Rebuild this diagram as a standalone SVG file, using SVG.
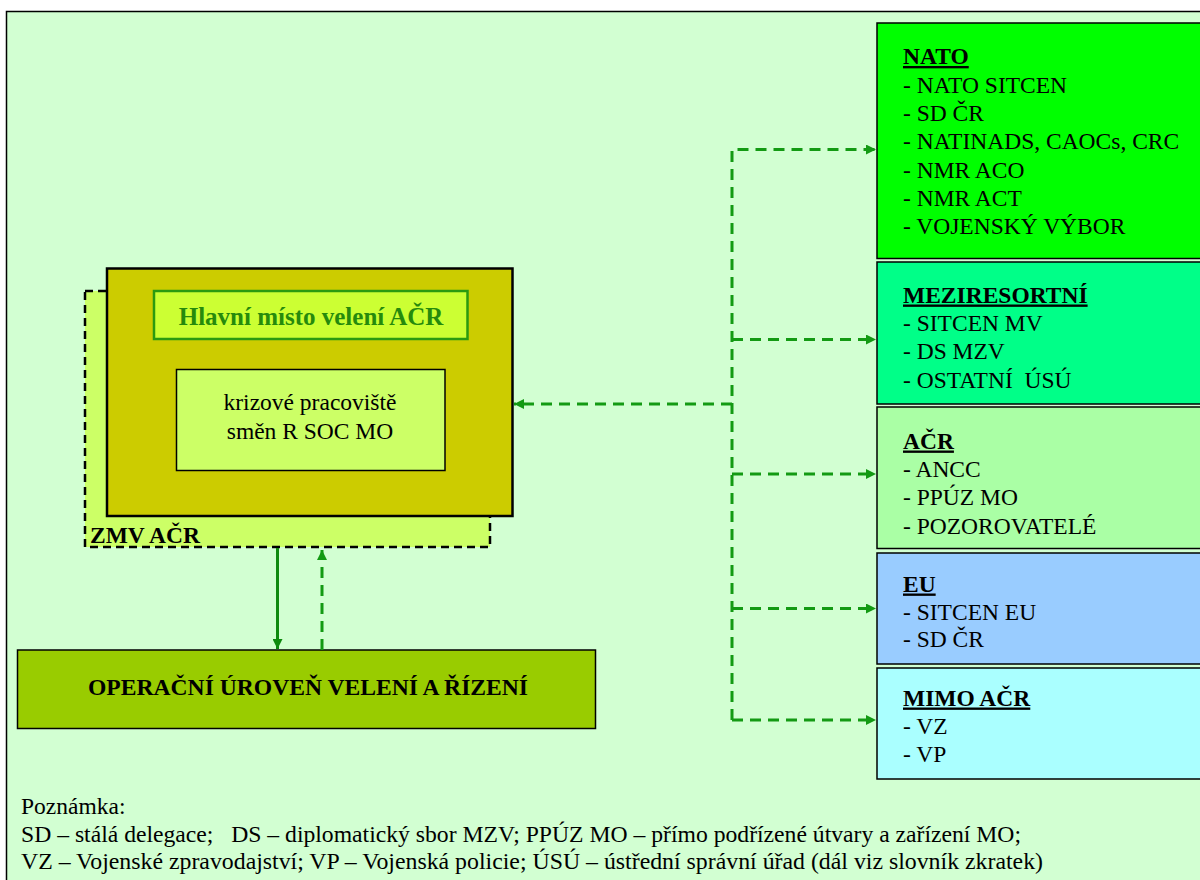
<svg xmlns="http://www.w3.org/2000/svg" width="1200" height="880" viewBox="0 0 1200 880">
<defs>
<style>
text{font-family:"Liberation Serif","Times New Roman",serif;fill:#000}
.t{font-size:23.5px}
.h{font-size:23.5px;font-weight:bold;text-decoration:underline}
.box{stroke:#000;stroke-width:1.5}
.dash{fill:none;stroke:#139a13;stroke-width:3;stroke-dasharray:11 7}
.solid{fill:none;stroke:#0e8a0e;stroke-width:3}
</style>
<marker id="ah" viewBox="0 0 10 10" refX="10" refY="5" markerWidth="10" markerHeight="10" markerUnits="userSpaceOnUse" orient="auto"><path d="M0,0 L10,5 L0,10 z" fill="#139a13"/></marker>
<marker id="ah2" viewBox="0 0 10 10" refX="10" refY="5" markerWidth="10" markerHeight="10" markerUnits="userSpaceOnUse" orient="auto"><path d="M0,0 L10,5 L0,10 z" fill="#0e8a0e"/></marker>
</defs>
<rect x="0" y="0" width="1200" height="880" fill="#ffffff"/>
<rect x="6.5" y="11.5" width="1200" height="880" fill="#d2ffd2" stroke="#000" stroke-width="1.5"/>

<g id="zmv">
<rect x="85" y="291" width="405" height="256" fill="#ccff66" stroke="#000" stroke-width="2.5" stroke-dasharray="8 5"/>
<text x="90" y="543" style="font-size:23.5px;font-weight:bold">ZMV AČR</text>
</g>
<g id="hmv">
<rect x="107" y="268.5" width="405.5" height="247.5" fill="#cccc00" stroke="#000" stroke-width="2.5"/>
</g>
<g id="hlavni">
<rect x="154" y="291" width="313.5" height="48" fill="#ccff33" stroke="#2b9a10" stroke-width="2.5"/>
<text x="311" y="325" text-anchor="middle" style="font-size:25px;font-weight:bold;fill:#268a0c">Hlavní místo velení AČR</text>
</g>
<g id="krizove">
<rect x="176.5" y="369.5" width="268.5" height="101" fill="#ccff66" stroke="#000" stroke-width="1.5"/>
<text x="310" y="410" text-anchor="middle" class="t">krizové pracoviště</text>
<text x="310" y="438.5" text-anchor="middle" class="t">směn R SOC MO</text>
</g>
<g id="operacni">
<rect x="17.5" y="650" width="578" height="78.5" fill="#99cc00" stroke="#000" stroke-width="1.5"/>
<text x="308" y="695" text-anchor="middle" textLength="440" lengthAdjust="spacingAndGlyphs" style="font-size:23.5px;font-weight:bold">OPERAČNÍ ÚROVEŇ VELENÍ A ŘÍZENÍ</text>
</g>

<g id="nato">
<rect class="box" x="877" y="23" width="340" height="235.5" fill="#00ff00"/>
<text x="903" y="64" class="h">NATO</text>
<text x="903" y="92.5" class="t">- NATO SITCEN</text>
<text x="903" y="121" class="t">- SD ČR</text>
<text x="903" y="149" class="t">- NATINADS, CAOCs, CRC</text>
<text x="903" y="177.5" class="t">- NMR ACO</text>
<text x="903" y="205.5" class="t">- NMR ACT</text>
<text x="903" y="234" class="t">- VOJENSKÝ VÝBOR</text>
</g>
<g id="meziresortni">
<rect class="box" x="877" y="262" width="340" height="142" fill="#00ff88"/>
<text x="903" y="302.5" class="h">MEZIRESORTNÍ</text>
<text x="903" y="331" class="t">- SITCEN MV</text>
<text x="903" y="359" class="t">- DS MZV</text>
<text x="903" y="387.5" class="t" xml:space="preserve">- OSTATNÍ  ÚSÚ</text>
</g>
<g id="acr">
<rect class="box" x="877" y="407" width="340" height="141.5" fill="#aaffa5"/>
<text x="903" y="448.5" class="h">AČR</text>
<text x="903" y="477" class="t">- ANCC</text>
<text x="903" y="505" class="t">- PPÚZ MO</text>
<text x="903" y="533.5" class="t">- POZOROVATELÉ</text>
</g>
<g id="eu">
<rect class="box" x="877" y="553" width="340" height="111" fill="#99ccff"/>
<text x="903" y="591.5" class="h">EU</text>
<text x="903" y="620" class="t">- SITCEN EU</text>
<text x="903" y="647" class="t">- SD ČR</text>
</g>
<g id="mimo">
<rect class="box" x="877" y="668" width="340" height="111" fill="#aaffff"/>
<text x="903" y="705.5" class="h">MIMO AČR</text>
<text x="903" y="733.5" class="t">- VZ</text>
<text x="903" y="762" class="t">- VP</text>
</g>

<g id="connectors">
<path class="dash" d="M732,720 L732,149.5 L876,149.5" marker-end="url(#ah)"/>
<path class="dash" d="M732,339.5 L876,339.5" marker-end="url(#ah)"/>
<path class="dash" d="M732,474 L876,474" marker-end="url(#ah)"/>
<path class="dash" d="M732,608.5 L876,608.5" marker-end="url(#ah)"/>
<path class="dash" d="M732,720 L876,720" marker-end="url(#ah)"/>
<path class="dash" d="M732,404 L514,404" marker-end="url(#ah)"/>
<path class="solid" d="M277.5,548 L277.5,649" marker-end="url(#ah2)"/>
<path class="dash" d="M322,650 L322,550" marker-end="url(#ah)"/>
</g>

<g id="notes">
<text x="21" y="813.5" class="t">Poznámka:</text>
<text x="21" y="842" class="t" textLength="1000" lengthAdjust="spacingAndGlyphs" xml:space="preserve">SD – stálá delegace;   DS – diplomatický sbor MZV; PPÚZ MO – přímo podřízené útvary a zařízení MO;</text>
<text x="21" y="868.5" class="t" textLength="1022" lengthAdjust="spacingAndGlyphs">VZ – Vojenské zpravodajství; VP – Vojenská policie; ÚSÚ – ústřední správní úřad (dál viz slovník zkratek)</text>
</g>
</svg>
